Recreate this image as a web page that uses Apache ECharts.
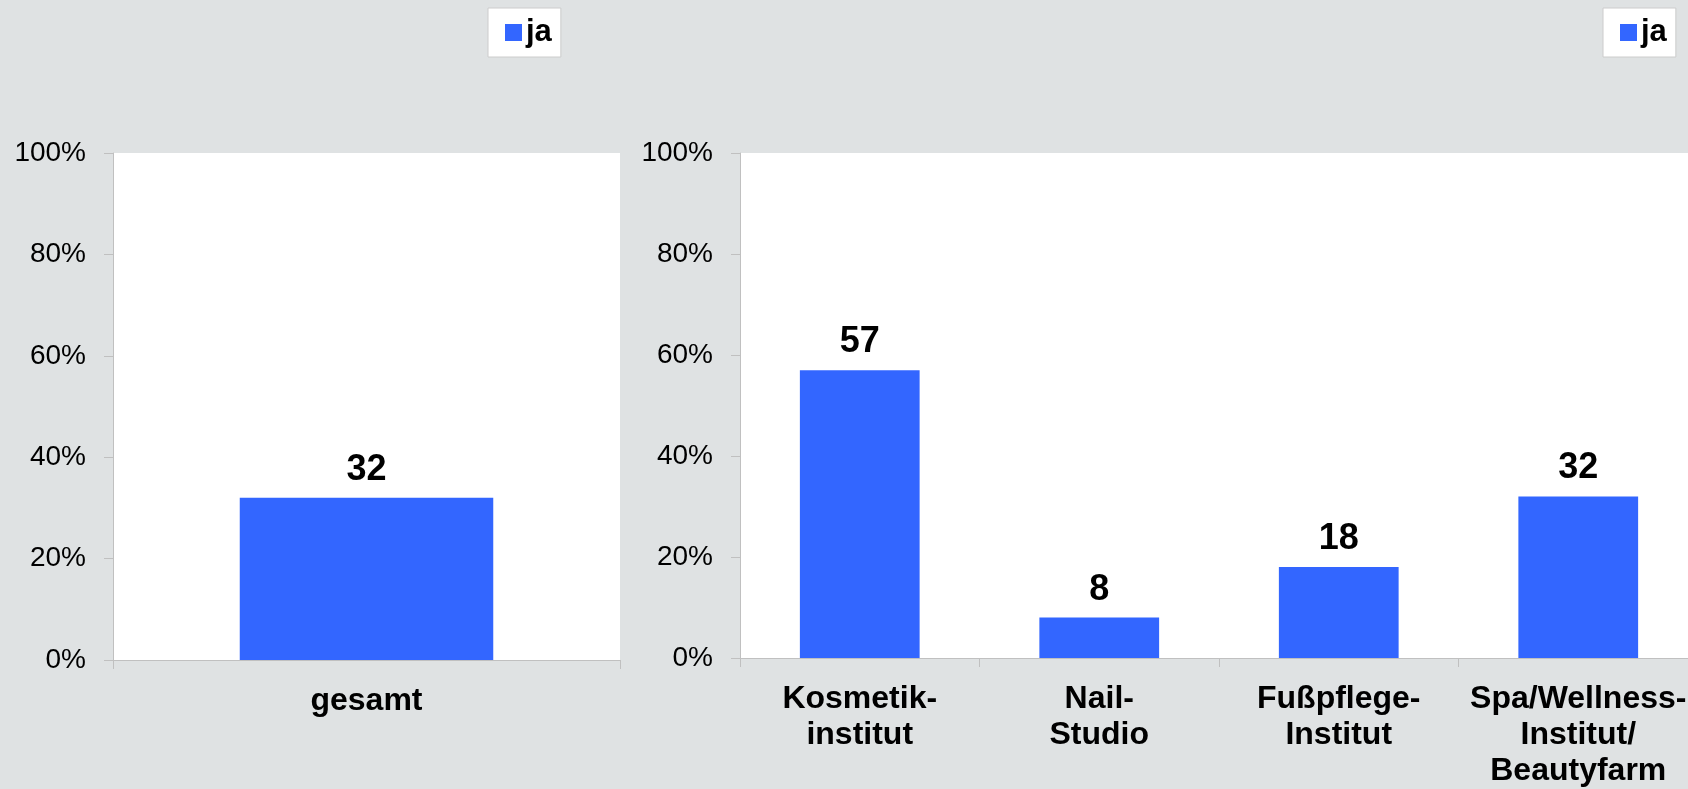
<!DOCTYPE html>
<html>
<head>
<meta charset="utf-8">
<script src="https://cdn.jsdelivr.net/npm/echarts@6/dist/echarts.min.js"></script>
<style>
  html, body { margin: 0; padding: 0; background: #dfe2e3; overflow: hidden; }
  #chart { width: 1710px; height: 789px; }
</style>
</head>
<body>
<div id="chart"></div>
<script>
const seriesName = 'ja';
const leftCategories = ['gesamt'];
const leftValues = [32];
const rightCategories = ['Kosmetik-\ninstitut', 'Nail-\nStudio', 'Fußpflege-\nInstitut', 'Spa/Wellness-\nInstitut/\nBeautyfarm'];
const rightValues = [57, 8, 18, 32];
const yTicks = { min: 0, max: 100, interval: 20 };

const FONT = "'Liberation Sans', Arial, sans-serif";
const BAR = '#3366ff';
const AXIS = '#c0c0c0';

const chart = echarts.init(document.getElementById('chart'));

function xAxisCfg(idx, cats) {
  return {
    type: 'category', gridIndex: idx, data: cats,
    axisLine: { show: true, lineStyle: { color: AXIS, width: 1 } },
    axisTick: { show: true, length: 9, interval: 0, lineStyle: { color: AXIS } },
    axisLabel: { interval: 0, color: '#000', fontFamily: FONT, fontSize: 32, fontWeight: 'bold', lineHeight: 36, margin: 23 },
    splitLine: { show: false }
  };
}
function yAxisCfg(idx) {
  return {
    type: 'value', gridIndex: idx, min: yTicks.min, max: yTicks.max, interval: yTicks.interval,
    axisLine: { show: true, lineStyle: { color: AXIS, width: 1 } },
    axisTick: { show: true, length: 9, lineStyle: { color: AXIS } },
    axisLabel: { formatter: '{value}%', color: '#000', fontFamily: FONT, fontSize: 28, margin: 27 },
    splitLine: { show: false }
  };
}
function legendCfg(left) {
  return {
    data: [seriesName], left: left, top: 8, orient: 'horizontal',
    backgroundColor: '#fff', borderColor: '#cccccc', borderWidth: 1,
    padding: [9, 9, 9, 17], itemWidth: 17, itemHeight: 17, itemGap: 5, icon: 'rect',
    textStyle: { color: '#000', fontFamily: FONT, fontSize: 31, fontWeight: 'bold', padding: [0, 0, 0, -1] },
    selectedMode: false
  };
}
function labelCfg() {
  return { show: true, position: 'top', distance: 10, color: '#000', fontFamily: FONT, fontSize: 36, fontWeight: 'bold' };
}

chart.setOption({
  backgroundColor: '#dfe2e3',
  animation: false,
  legend: [legendCfg(488), legendCfg(1603)],
  grid: [
    { left: 113, top: 153, width: 507, height: 507, show: true, backgroundColor: '#ffffff', borderWidth: 0, containLabel: false },
    { left: 740, top: 153, width: 958, height: 507, show: true, backgroundColor: '#ffffff', borderWidth: 0, containLabel: false }
  ],
  xAxis: [xAxisCfg(0, leftCategories), xAxisCfg(1, rightCategories)],
  yAxis: [yAxisCfg(0), yAxisCfg(1)],
  series: [
    { name: seriesName, type: 'bar', xAxisIndex: 0, yAxisIndex: 0, data: leftValues, barWidth: '50%', itemStyle: { color: BAR }, label: labelCfg() },
    { name: seriesName, type: 'bar', xAxisIndex: 1, yAxisIndex: 1, data: rightValues, barWidth: '50%', itemStyle: { color: BAR }, label: labelCfg() }
  ]
});
</script>
</body>
</html>
